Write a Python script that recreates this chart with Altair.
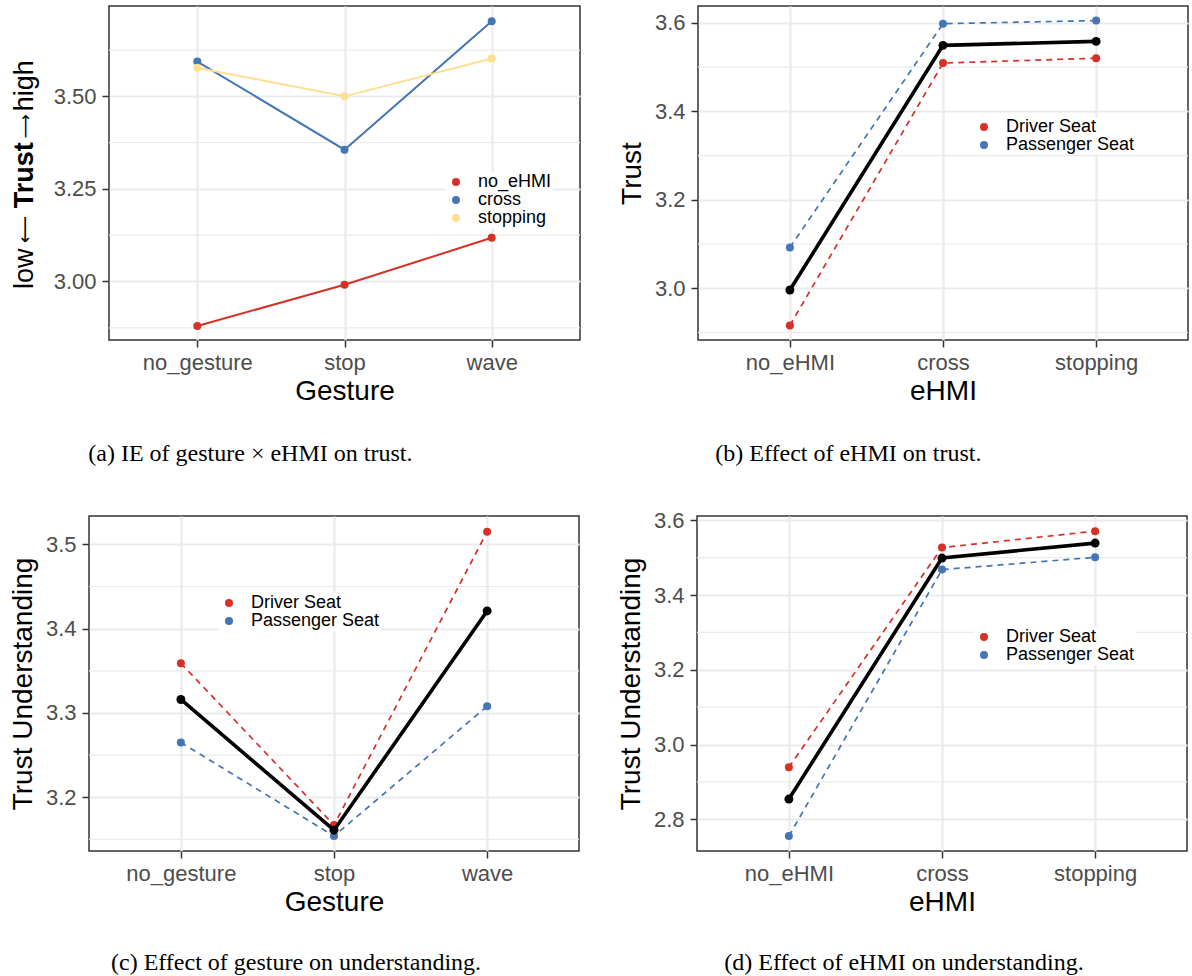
import altair as alt
import pandas as pd

# ---------------- data ----------------
gestures = ["no_gesture", "stop", "wave"]
ehmis = ["no_eHMI", "cross", "stopping"]
seats = ["Driver Seat", "Passenger Seat"]

# (a) IE of gesture x eHMI on trust
a_names = ["no_eHMI", "cross", "stopping"]
a_no_ehmi = [2.880, 2.991, 3.118]
a_cross = [3.594, 3.356, 3.703]
a_stopping = [3.577, 3.500, 3.602]

# (b) effect of eHMI on trust
b_driver = [2.916, 3.509, 3.520]
b_passenger = [3.092, 3.598, 3.605]
b_overall = [2.996, 3.549, 3.558]

# (c) effect of gesture on understanding
c_driver = [3.359, 3.167, 3.515]
c_passenger = [3.265, 3.154, 3.308]
c_overall = [3.316, 3.161, 3.421]

# (d) effect of eHMI on understanding
d_driver = [2.939, 3.527, 3.571]
d_passenger = [2.755, 3.468, 3.501]
d_overall = [2.854, 3.499, 3.539]

# axes
a_ticks = [3.00, 3.25, 3.50]
a_minor = [2.875, 3.125, 3.375, 3.625]
a_domain = [2.842, 3.744]
b_ticks = [3.0, 3.2, 3.4, 3.6]
b_minor = [2.9, 3.1, 3.3, 3.5]
b_domain = [2.883, 3.638]
c_ticks = [3.2, 3.3, 3.4, 3.5]
c_minor = [3.15, 3.25, 3.35, 3.45]
c_domain = [3.1363, 3.5336]
d_ticks = [2.8, 3.0, 3.2, 3.4, 3.6]
d_minor = [2.9, 3.1, 3.3, 3.5]
d_domain = [2.715, 3.6115]

a_ytitle_parts = ["low", "\u27f5", "Trust", "\u27f6", "high"]
captions = [
    "(a) IE of gesture \u00d7 eHMI on trust.",
    "(b) Effect of eHMI on trust.",
    "(c) Effect of gesture on understanding.",
    "(d) Effect of eHMI on understanding.",
]

RED = "#D73027"
BLUE = "#4575B4"
YELLOW = "#FEE090"
GRID = "#EBEBEB"
SANS = "Liberation Sans"
SERIF = "Liberation Serif"


def long_df(cats, names, lists):
    rows = []
    for n, vals in zip(names, lists):
        for c, v in zip(cats, vals):
            rows.append({"cat": c, "series": n, "val": v})
    return pd.DataFrame(rows)


def panel(cats, xtitle, ytitle, df, overall, dom, ticks, fmt, minor,
          cdom, crange, dashed, lx, ly, caption, cdx, coff, w, h, ytp, extra=None):
    x = alt.X("cat:N", sort=cats,
              scale=alt.Scale(type="point", domain=cats, padding=0.6),
              axis=alt.Axis(title=xtitle, labelAngle=0, labelPadding=5,
                            titlePadding=4))
    yaxis_kw = dict(values=ticks, format=fmt, labelPadding=6, titlePadding=ytp)
    yaxis_kw["title"] = ytitle if ytitle else None
    y = alt.Y("val:Q", scale=alt.Scale(domain=dom, nice=False, zero=False),
              axis=alt.Axis(**yaxis_kw))
    cscale = alt.Scale(domain=cdom, range=crange)

    minor_df = pd.DataFrame({"val": minor})
    rules = alt.Chart(minor_df).mark_rule(color=GRID, strokeWidth=1.2).encode(y=y)

    layers = [rules]
    line_kw = dict(strokeWidth=1.7 if dashed else 2.0)
    if dashed:
        line_kw["strokeDash"] = [6, 5]
    for name, col in zip(cdom, crange):
        layers.append(
            alt.Chart(df).transform_filter(alt.datum.series == name)
            .mark_line(color=col, **line_kw).encode(x=x, y=y))
    pts = alt.Chart(df).mark_circle(size=64, opacity=1).encode(
        x=x, y=y,
        color=alt.Color("series:N", scale=cscale, legend=alt.Legend(
            title=None, orient="none", legendX=lx, legendY=ly,
            labelFontSize=18, labelFont=SANS, labelColor="black",
            symbolType="circle", symbolSize=64, labelOffset=13,
            rowPadding=-1, fillColor="white", padding=1,
            symbolStrokeWidth=0, symbolOpacity=1)))
    layers.append(pts)
    if overall is not None:
        odf = pd.DataFrame({"cat": cats, "val": overall})
        layers.append(alt.Chart(odf).mark_line(color="black", strokeWidth=3.6).encode(x=x, y=y))
        layers.append(alt.Chart(odf).mark_circle(color="black", size=80, opacity=1).encode(x=x, y=y))
    if extra:
        layers.extend(extra)
    return alt.layer(*layers).properties(
        width=w, height=h,
        title=alt.TitleParams(caption, orient="bottom", anchor="start", frame="group",
                              dx=cdx, offset=coff, baseline="alphabetic",
                              font=SERIF, fontSize=24, fontWeight="normal",
                              color="black"))


# manual mixed-weight y title for panel (a)
def ytext(s, yv, weight, font, size, xv):
    return alt.Chart(pd.DataFrame({"t": [s]})).mark_text(
        angle=270, font=font, fontSize=size, fontWeight=weight, color="black",
        align="center", baseline="alphabetic").encode(
        text="t:N", x=alt.value(xv), y=alt.value(yv))

a_title = [
    ytext(a_ytitle_parts[0], 262.7, "normal", SANS, 27, -76.5),
    ytext(a_ytitle_parts[1], 223.7, "normal", "DejaVu Sans", 19, -78.5),
    ytext(a_ytitle_parts[2], 169.2, "bold", SANS, 27, -76.5),
    ytext(a_ytitle_parts[3], 120.2, "normal", "DejaVu Sans", 17, -78.5),
    ytext(a_ytitle_parts[4], 79.7, "normal", SANS, 27, -76.5),
]

A = panel(gestures, "Gesture", None,
          long_df(gestures, a_names, [a_no_ehmi, a_cross, a_stopping]), None,
          a_domain, a_ticks, ".2f", a_minor, a_names, [RED, BLUE, YELLOW], False,
          337, 166, captions[0], -20.7, 56, 471, 334, 8, extra=a_title)
B = panel(ehmis, "eHMI", "Trust",
          long_df(ehmis, seats, [b_driver, b_passenger]), b_overall,
          b_domain, b_ticks, ".1f", b_minor, seats, [RED, BLUE], True,
          276, 111, captions[1], 17.3, 56, 490, 334, 7.5)
C = panel(gestures, "Gesture", "Trust Understanding",
          long_df(gestures, seats, [c_driver, c_passenger]), c_overall,
          c_domain, c_ticks, ".1f", c_minor, seats, [RED, BLUE], True,
          130, 77, captions[2], 22, 54, 490, 335, 7.5)
D = panel(ehmis, "eHMI", "Trust Understanding",
          long_df(ehmis, seats, [d_driver, d_passenger]), d_overall,
          d_domain, d_ticks, ".1f", d_minor, seats, [RED, BLUE], True,
          277, 111, captions[3], 27.3, 54, 490, 335, 7.5)


def spacer():
    return alt.Chart(pd.DataFrame({"t": [""]})).mark_text().encode(
        text="t:N").properties(width=1, height=1,
                               view=alt.ViewBackground(stroke="transparent"))


def indep(c):
    return c.resolve_scale(color="independent", x="independent",
                           y="independent").resolve_legend(color="independent")


row1 = indep(alt.hconcat(spacer(), indep(alt.hconcat(A, B, spacing=36)), spacing=0))
row2 = indep(alt.hconcat(spacer(), indep(alt.hconcat(C, D, spacing=36)), spacing=0))

chart = indep(alt.vconcat(row1, row2, spacing=41)).properties(
    padding={"left": 6, "top": 0, "right": 0, "bottom": 0},
    background="white",
).configure_view(stroke="#333333", strokeWidth=1.5).configure_axis(
    domain=False, grid=True, gridColor=GRID, gridWidth=2.2,
    tickColor="#333333", tickWidth=1.5, tickSize=7,
    labelColor="#4D4D4D", labelFont=SANS, labelFontSize=22,
    titleFont=SANS, titleFontSize=28, titleColor="black",
    titleFontWeight="normal",
)

chart.save("out.html", embed_options={"renderer": "svg", "actions": False})
